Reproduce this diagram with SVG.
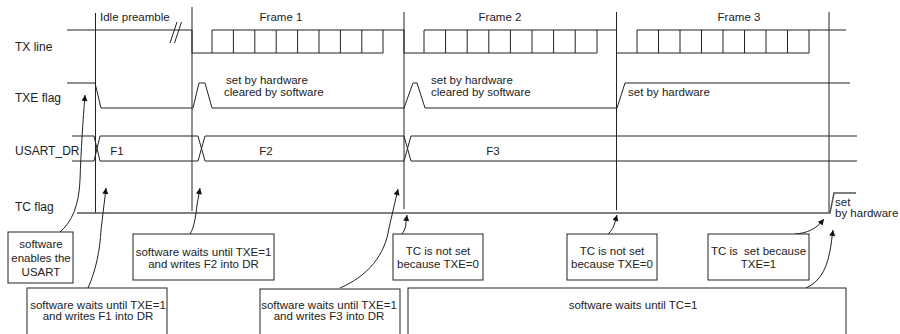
<svg xmlns="http://www.w3.org/2000/svg" width="900" height="334" viewBox="0 0 900 334">
<style>
text{font-family:"Liberation Sans",Arial,sans-serif;font-size:11.5px;fill:#222}
.lbl{font-size:12px}
.c{text-anchor:middle}
.w{fill:none;stroke:#222;stroke-width:1}
.tc{fill:none;stroke:#555;stroke-width:1.5}
.box{fill:#fff;stroke:#222;stroke-width:1}
.arr{fill:none;stroke:#222;stroke-width:1;marker-end:url(#ah)}
</style>
<defs>
<marker id="ah" viewBox="0 0 10 10" refX="10" refY="5" markerWidth="7" markerHeight="6" orient="auto" markerUnits="userSpaceOnUse"><path d="M0,0 L10,5 L0,10 z" fill="#111"/></marker>
</defs>
<rect width="900" height="334" fill="#fff"/>
<g id="labels">
<text class="lbl" x="15" y="51">TX line</text>
<text class="lbl" x="15" y="102">TXE flag</text>
<text class="lbl" x="15" y="155">USART_DR</text>
<text class="lbl" x="15" y="211">TC flag</text>
<text x="100" y="21">Idle preamble</text>
<text class="c" x="281" y="21">Frame 1</text>
<text class="c" x="500" y="21">Frame 2</text>
<text class="c" x="739" y="21">Frame 3</text>
</g>
<g id="markers-vertical">
<path class="w" d="M95.5 13V213M192 7V211M404 12V209M616.5 12V210M829 12V213"/>
</g>
<g id="tx-line">
<path class="w" d="M67 30H192V53H383M212 30H404V53H597M424 30H616.5V53H809M637 30H846"/>
<path class="w" d="M170 43L177 22M174.5 43L181.5 22"/>
<path class="w" d="M212 30V53M233.4 30V53M254.8 30V53M276.2 30V53M297.6 30V53M319 30V53M340.4 30V53M361.8 30V53M383 30V53"/>
<path class="w" d="M424 30V53M445.6 30V53M467.2 30V53M488.8 30V53M510.4 30V53M532 30V53M553.6 30V53M575.2 30V53M597 30V53"/>
<path class="w" d="M637 30V53M658.5 30V53M680 30V53M701.5 30V53M723 30V53M744.5 30V53M766 30V53M787.5 30V53M809 30V53"/>
</g>
<g id="txe-flag">
<path class="w" d="M67 83H95L101 108H193L199 83H205L212 108H404L413 83H417L425 108H617L625 83H850"/>
<text x="226" y="84">set by hardware</text>
<text x="224" y="96">cleared by software</text>
<text x="431" y="84">set by hardware</text>
<text x="431" y="96">cleared by software</text>
<text x="628" y="96">set by hardware</text>
</g>
<g id="usart-dr">
<path class="w" d="M72 136H94L100 161H198L205 136H404L411 161H857"/>
<path class="w" d="M72 161H94L100 136H198L205 161H404L411 136H857"/>
<text class="c" x="117" y="155">F1</text>
<text class="c" x="266" y="155">F2</text>
<text class="c" x="493" y="155">F3</text>
</g>
<g id="tc-flag">
<path class="tc" d="M77 213H830L834 193H856"/>
<text x="835" y="206">set</text>
<text x="835" y="217">by hardware</text>
</g>
<g id="connectors">
<path class="arr" d="M60 232C72 222 79 205 80 180C81 150 83 120 85 95"/>
<path class="arr" d="M88 288C96 270 100 250 101 230L106 188"/>
<path class="arr" d="M190 234C194 228 196 215 197 205L200 188"/>
<path class="arr" d="M340 288C368 276 385 255 389 228L398 189"/>
<path class="arr" d="M402 234C405 230 406 226 406 222L407 215"/>
<path class="arr" d="M608 234C612 231 614 226 615 222L617 215"/>
<path class="arr" d="M795 234C808 233 816 229 824 219"/>
<path class="arr" d="M806 288C822 281 828 265 831 245L833 230"/>
</g>
<g id="box-enable">
<rect class="box" x="8" y="232" width="65" height="51"/>
<text class="c" x="41" y="248">software</text>
<text class="c" x="41" y="262">enables the</text>
<text class="c" x="41" y="276">USART</text>
</g>
<g id="box-f2">
<rect class="box" x="133" y="234" width="141" height="46"/>
<text class="c" x="203.5" y="256">software waits until TXE=1</text>
<text class="c" x="203.5" y="268">and writes F2 into DR</text>
</g>
<g id="box-f1">
<rect class="box" x="27" y="288" width="140" height="60"/>
<text class="c" x="98" y="309">software waits until TXE=1</text>
<text class="c" x="98" y="320">and writes F1 into DR</text>
</g>
<g id="box-f3">
<rect class="box" x="260" y="289" width="140" height="60"/>
<text class="c" x="329" y="309">software waits until TXE=1</text>
<text class="c" x="329" y="320">and writes F3 into DR</text>
</g>
<g id="box-tc0a">
<rect class="box" x="393" y="234" width="90" height="46"/>
<text class="c" x="438" y="255">TC is not set</text>
<text class="c" x="438" y="268">because TXE=0</text>
</g>
<g id="box-tc0b">
<rect class="box" x="567" y="234" width="90" height="46"/>
<text class="c" x="612" y="255">TC is not set</text>
<text class="c" x="612" y="268">because TXE=0</text>
</g>
<g id="box-tc1">
<rect class="box" x="708" y="234" width="101" height="46"/>
<text class="c" x="758.5" y="255" xml:space="preserve">TC is  set because</text>
<text class="c" x="758.5" y="268">TXE=1</text>
</g>
<g id="box-wait-tc">
<rect class="box" x="408" y="288" width="438" height="60"/>
<text class="c" x="633" y="309">software waits until TC=1</text>
</g>
</svg>
